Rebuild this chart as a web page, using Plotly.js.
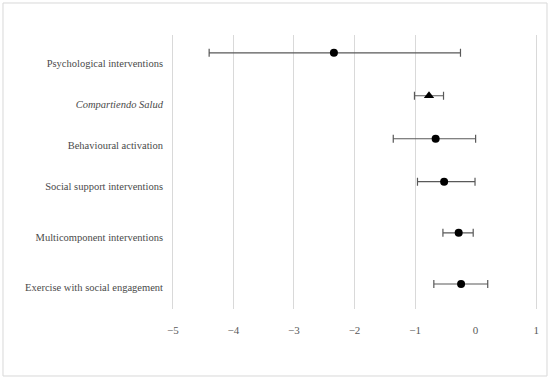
<!DOCTYPE html>
<html>
<head>
<meta charset="utf-8">
<script src="https://cdn.plot.ly/plotly-3.0.1.min.js"></script>
<style>
html,body{margin:0;padding:0;background:#fff;}
#chart{width:550px;height:379px;}
</style>
</head>
<body>
<div id="chart"></div>
<script>
// Data
var labels = ["Psychological interventions", "<i>Compartiendo Salud</i>", "Behavioural activation",
              "Social support interventions", "Multicomponent interventions", "Exercise with social engagement"];
var estimates = [-2.34, -0.77, -0.66, -0.52, -0.28, -0.24];
var lower = [-4.40, -1.01, -1.36, -0.96, -0.54, -0.69];
var upper = [-0.25, -0.53, 0.00, -0.01, -0.04, 0.20];
var rowPos = [5.52, 4.68, 3.84, 3, 2, 1];
var labelPos = [5.32, 4.52, 3.72, 2.90, 1.92, 0.94];
var markerType = ["circle", "triangle-up", "circle", "circle", "circle", "circle"];
var xTicks = [-5, -4, -3, -2, -1, 0, 1];

function pick(arr, idx) { return idx.map(function (i) { return arr[i]; }); }

var groups = {};
markerType.forEach(function (m, i) { (groups[m] = groups[m] || []).push(i); });

var traces = Object.keys(groups).map(function (sym) {
  var idx = groups[sym];
  var est = pick(estimates, idx);
  return {
    type: "scatter",
    mode: "markers",
    x: est,
    y: pick(rowPos, idx),
    marker: { symbol: sym, color: "#000", size: sym === "circle" ? 8 : 9 },
    error_x: {
      type: "data", symmetric: false,
      array: idx.map(function (i) { return upper[i] - estimates[i]; }),
      arrayminus: idx.map(function (i) { return estimates[i] - lower[i]; }),
      color: "#595959", thickness: 1.2, width: 4
    },
    hoverinfo: "x",
    showlegend: false
  };
});

var layout = {
  width: 550, height: 379,
  margin: { l: 171, r: 12, t: 35, b: 70 },
  paper_bgcolor: "#fff", plot_bgcolor: "#fff",
  font: { family: "Liberation Serif, serif", color: "#595959", size: 11 },
  xaxis: {
    range: [-5.03, 1.03], tickvals: xTicks, ticks: "",
    showgrid: true, gridcolor: "#d9d9d9", gridwidth: 1,
    zeroline: true, zerolinecolor: "#ffffff", zerolinewidth: 2,
    showline: false, ticklabelstandoff: 13,
    tickfont: { size: 11, color: "#595959" }
  },
  yaxis: {
    range: [0.511, 5.868], tickvals: labelPos, ticktext: labels, ticks: "",
    showgrid: false, zeroline: false, showline: false,
    ticklabelstandoff: 7,
    tickfont: { size: 10.5, color: "#4a4a4a" }
  },
  shapes: [{
    type: "rect", xref: "paper", yref: "paper",
    x0: -0.4578, x1: 1.0245, y0: -0.2445, y1: 1.1168,
    line: { color: "#d9d9d9", width: 1 }, layer: "below"
  }]
};

Plotly.newPlot("chart", traces, layout, { displayModeBar: false, staticPlot: true });
</script>
</body>
</html>
